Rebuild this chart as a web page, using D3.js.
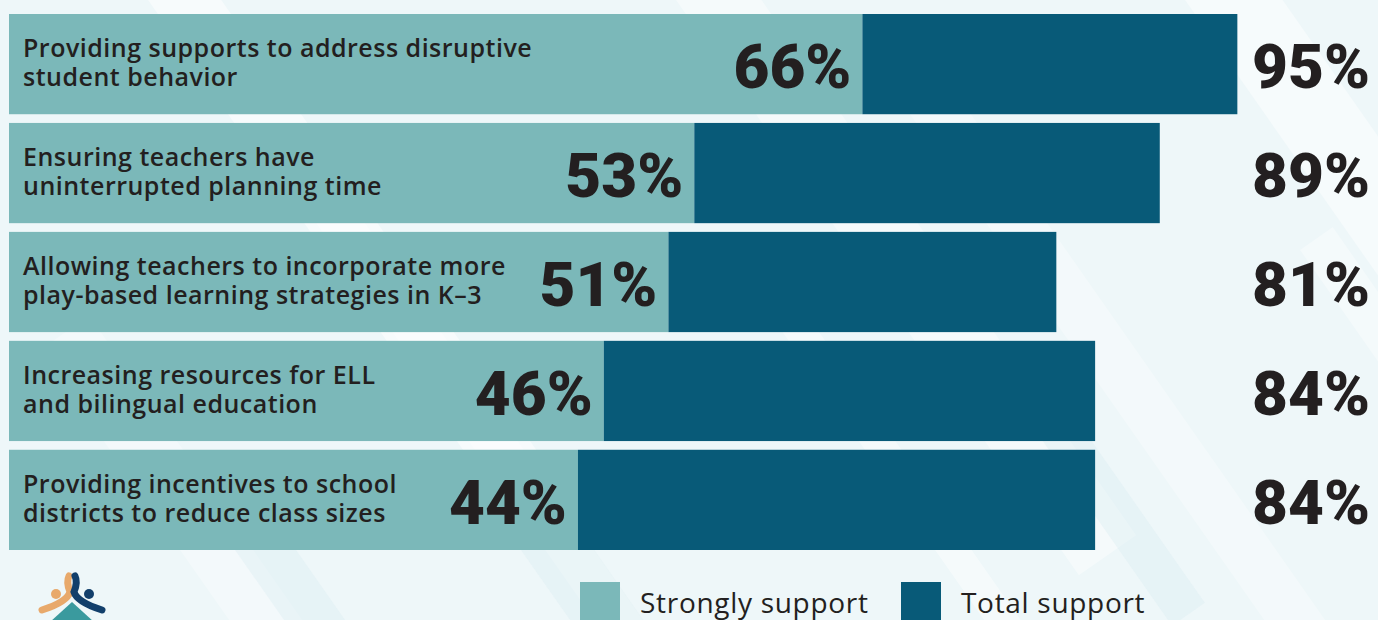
<!DOCTYPE html>
<html><head><meta charset="utf-8">
<script src="https://cdn.jsdelivr.net/npm/d3@7"></script>
<style>
html,body{margin:0;padding:0;background:#eef7f9;overflow:hidden}
svg{display:block}
</style></head><body>
<svg id="c" width="1378" height="620"></svg>
<script>
const categories = [
  ["Providing supports to address disruptive", "student behavior"],
  ["Ensuring teachers have", "uninterrupted planning time"],
  ["Allowing teachers to incorporate more", "play-based learning strategies in K\u20133"],
  ["Increasing resources for ELL", "and bilingual education"],
  ["Providing incentives to school", "districts to reduce class sizes"]
];
const strongly = [66, 53, 51, 46, 44];
const total = [95, 89, 81, 84, 84];
const seriesNames = ["Strongly support", "Total support"];
const colors = ["#7bb8b9", "#085a78"];

const W = 1378, H = 620;
const svg = d3.select("#c");

// background stripes
const bg = svg.append("g");
bg.append("rect").attr("width", W).attr("height", H).attr("fill", "#eef7f9");
const stripes = [[120,-40,60,700,0.5],[300,200,40,600,0.35],[620,-80,70,800,0.4],[900,100,50,700,0.3],[1150,-50,80,800,0.45],[1300,250,40,500,0.35],[40,350,60,500,0.3],[760,300,30,500,0.4]];
stripes.forEach(s => {
  bg.append("rect").attr("x", s[0]).attr("y", s[1]).attr("width", s[2]).attr("height", s[3])
    .attr("fill", "#ffffff").attr("opacity", s[4])
    .attr("transform", `rotate(-35 ${s[0]} ${s[1]})`);
});
[[200,500,50,300],[1000,380,40,300],[500,520,60,200]].forEach(s=>{
  bg.append("rect").attr("x", s[0]).attr("y", s[1]).attr("width", s[2]).attr("height", s[3])
    .attr("fill", "#d6ecf0").attr("opacity", 0.35)
    .attr("transform", `rotate(-35 ${s[0]} ${s[1]})`);
});

const x = d3.scaleLinear().domain([0, 100]).range([9, 1302]);
const y = d3.scaleBand().domain(d3.range(categories.length)).range([14, 550]).paddingInner(0.08).paddingOuter(0);

const rows = svg.append("g").selectAll("g").data(categories).join("g")
  .attr("transform", (d, i) => `translate(0,${y(i)})`);

rows.append("rect").attr("x", x(0)).attr("width", (d, i) => x(strongly[i]) - x(0))
  .attr("height", y.bandwidth()).attr("fill", colors[0]);
rows.append("rect").attr("x", (d, i) => x(strongly[i])).attr("width", (d, i) => x(total[i]) - x(strongly[i]))
  .attr("height", y.bandwidth()).attr("fill", colors[1]);

const lbl = rows.append("text").attr("x", 23).attr("y", 43)
  .attr("font-family", "'Open Sans', sans-serif").attr("font-weight", 600).attr("font-size", 25)
  .attr("letter-spacing", 0.5).attr("fill", "#231f20");
lbl.selectAll("tspan").data(d => d).join("tspan").attr("x", 23).attr("dy", (d, j) => j === 0 ? 0 : 29).text(d => d);

const bigFont = "Roboto, 'DejaVu Sans', sans-serif";
rows.append("text").attr("x", (d, i) => x(strongly[i]) - 11).attr("y", 74)
  .attr("text-anchor", "end").attr("font-family", bigFont).attr("font-weight", 900)
  .attr("font-size", 62).attr("fill", "#231f20")
  .text((d, i) => strongly[i] + "%");
rows.append("text").attr("x", 1370).attr("y", 74)
  .attr("text-anchor", "end").attr("font-family", bigFont).attr("font-weight", 900)
  .attr("font-size", 62).attr("fill", "#231f20")
  .text((d, i) => total[i] + "%");

// legend
const legX = [580, 901];
const leg = svg.append("g").selectAll("g").data(seriesNames).join("g")
  .attr("transform", (d, i) => `translate(${legX[i]},582)`);
leg.append("rect").attr("width", 40).attr("height", 45).attr("fill", (d, i) => colors[i]);
leg.append("text").attr("x", 60).attr("y", 31).attr("font-family", "'Open Sans', sans-serif")
  .attr("font-weight", 500).attr("font-size", 28).attr("letter-spacing", 0.7).attr("fill", "#231f20").text(d => d);

// logo (partial)
const logo = svg.append("g").attr("transform", "translate(72,600)");
logo.append("path").attr("d", "M-30,10 Q-5,2 -2,-8 Q-6,-18 -3,-24").attr("stroke", "#e8a96b").attr("stroke-width", 7).attr("fill", "none").attr("stroke-linecap", "round");
logo.append("circle").attr("cx", -16).attr("cy", -6).attr("r", 5).attr("fill", "#e8a96b");
logo.append("path").attr("d", "M30,10 Q5,2 2,-8 Q6,-18 3,-24").attr("stroke", "#123f6b").attr("stroke-width", 7).attr("fill", "none").attr("stroke-linecap", "round");
logo.append("circle").attr("cx", 17).attr("cy", -6).attr("r", 5).attr("fill", "#123f6b");
logo.append("path").attr("d", "M0,2 L-22,22 L22,22 Z").attr("fill", "#3a9a9e");
</script>
</body></html>
